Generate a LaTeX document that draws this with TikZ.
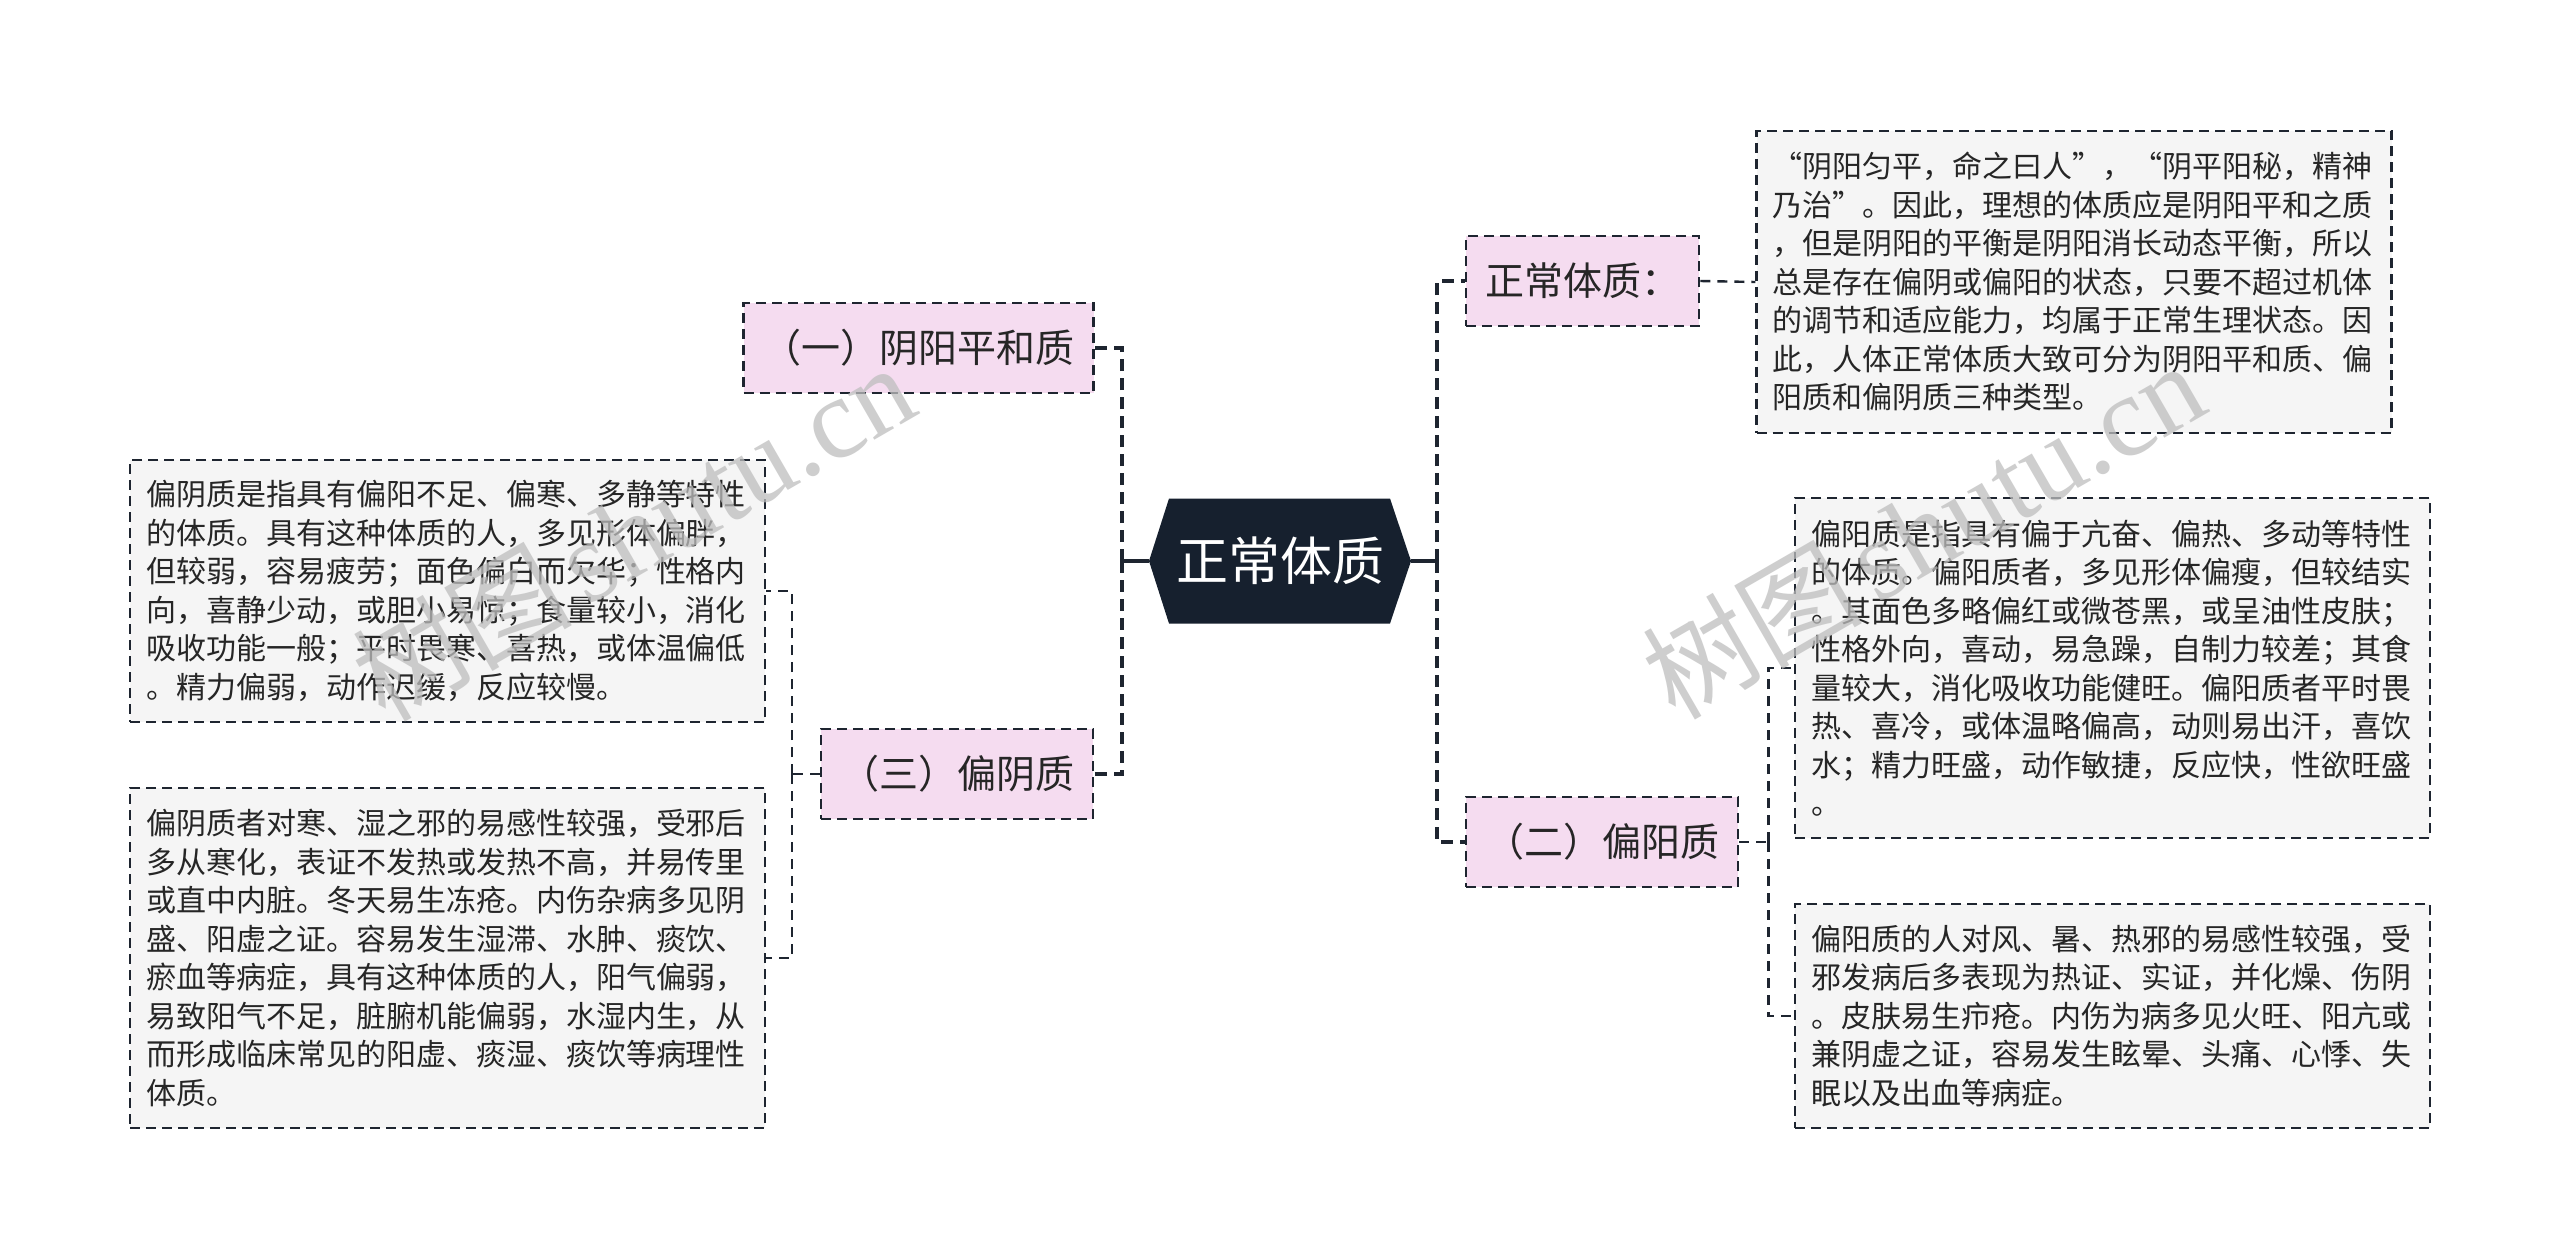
\documentclass[tikz,border=0pt]{standalone}
\usepackage{fontspec}
\setmainfont{Noto Sans CJK SC}
\newfontfamily\cjkfont{Noto Sans CJK SC}
\newfontfamily\wmserif{Liberation Serif}
\usetikzlibrary{calc}
\definecolor{rootfill}{HTML}{16202E}
\definecolor{labelfill}{HTML}{F5DCF0}
\definecolor{notefill}{HTML}{F5F5F5}
\definecolor{linecol}{HTML}{1E2530}
\definecolor{textcol}{HTML}{262626}
\definecolor{wmgray}{HTML}{BEBEBE}
\begin{document}
\begin{tikzpicture}[x=1pt,y=-1pt,
  labelbox/.style={draw=linecol, line width=2.6pt, dash pattern=on 10pt off 6pt, fill=labelfill,
    font=\fontsize{39}{46}\selectfont, text=textcol, inner xsep=19pt, inner ysep=0pt, minimum height=90pt},
  notebox/.style={draw=linecol, line width=2.2pt, dash pattern=on 10pt off 6pt, fill=notefill,
    font=\fontsize{30}{38.5}\selectfont, text=textcol, text width=603pt, align=left,
    inner xsep=16pt, inner ysep=0pt},
  roottext/.style={text=white, font=\fontsize{52}{60}\selectfont, inner sep=0pt},
  rootlink/.style={draw=linecol, line width=3.6pt, dash pattern=on 12pt off 7pt},
  sublink/.style={draw=linecol, line width=2.4pt, dash pattern=on 10pt off 7pt},
  stub/.style={draw=linecol, line width=3.6pt},
  watermark/.style={text=wmgray, opacity=0.75, rotate=30, inner sep=0pt}
]
\fill[white] (0,0) rectangle (2560,1259);
\useasboundingbox (0,0) rectangle (2560,1259);

% root hexagon
\coordinate (rc) at (1280,561);
\fill[rootfill] ($(rc)+(-111,-62.5)$) -- ($(rc)+(110,-62.5)$) -- ($(rc)+(131,0)$)
  -- ($(rc)+(110,62.5)$) -- ($(rc)+(-111,62.5)$) -- ($(rc)+(-131,0)$) -- cycle;
\node[roottext] (root) at (rc) {正常体质};
\coordinate (rootW) at ($(rc)+(-131,0)$);
\coordinate (rootE) at ($(rc)+(131,0)$);

% first-level labels
\node[labelbox, minimum width=233pt] (n0) at (1582.5,281) {正常体质：};
\node[labelbox, minimum width=349pt] (n1) at (918.5,348) {（一）阴阳平和质};
\node[labelbox, minimum width=272pt] (n2) at (1602,842) {（二）偏阳质};
\node[labelbox, minimum width=272pt] (n3) at (957,774) {（三）偏阴质};

% notes
\node[notebox, minimum height=302pt] (A) at (2074,282) {%
“阴阳匀平，命之曰人”，“阴平阳秘，精神\\
乃治”。因此，理想的体质应是阴阳平和之质\\
，但是阴阳的平衡是阴阳消长动态平衡，所以\\
总是存在偏阴或偏阳的状态，只要不超过机体\\
的调节和适应能力，均属于正常生理状态。因\\
此，人体正常体质大致可分为阴阳平和质、偏\\
阳质和偏阴质三种类型。};

\node[notebox, minimum height=262pt] (B) at (447.5,591) {%
偏阴质是指具有偏阳不足、偏寒、多静等特性\\
的体质。具有这种体质的人，多见形体偏胖，\\
但较弱，容易疲劳；面色偏白而欠华；性格内\\
向，喜静少动，或胆小易惊；食量较小，消化\\
吸收功能一般；平时畏寒、喜热，或体温偏低\\
。精力偏弱，动作迟缓，反应较慢。};

\node[notebox, minimum height=340pt] (C) at (447.5,958) {%
偏阴质者对寒、湿之邪的易感性较强，受邪后\\
多从寒化，表证不发热或发热不高，并易传里\\
或直中内脏。冬天易生冻疮。内伤杂病多见阴\\
盛、阳虚之证。容易发生湿滞、水肿、痰饮、\\
瘀血等病症，具有这种体质的人，阳气偏弱，\\
易致阳气不足，脏腑机能偏弱，水湿内生，从\\
而形成临床常见的阳虚、痰湿、痰饮等病理性\\
体质。};

\node[notebox, minimum height=340pt] (D) at (2112.5,668) {%
偏阳质是指具有偏于亢奋、偏热、多动等特性\\
的体质。偏阳质者，多见形体偏瘦，但较结实\\
。其面色多略偏红或微苍黑，或呈油性皮肤；\\
性格外向，喜动，易急躁，自制力较差；其食\\
量较大，消化吸收功能健旺。偏阳质者平时畏\\
热、喜冷，或体温略偏高，动则易出汗，喜饮\\
水；精力旺盛，动作敏捷，反应快，性欲旺盛\\
。};

\node[notebox, minimum height=224pt] (E) at (2112.5,1016) {%
偏阳质的人对风、暑、热邪的易感性较强，受\\
邪发病后多表现为热证、实证，并化燥、伤阴\\
。皮肤易生疖疮。内伤为病多见火旺、阳亢或\\
兼阴虚之证，容易发生眩晕、头痛、心悸、失\\
眠以及出血等病症。};

% connectors from root
\coordinate (jl) at (1122,561);
\coordinate (jr) at (1437,561);
\draw[stub] (rootW) -- (jl);
\draw[stub] (rootE) -- (jr);
\draw[rootlink] (jl) |- (n1.east);
\draw[rootlink] (jl) |- (n3.east);
\draw[rootlink] (jr) |- (n0.west);
\draw[rootlink] (jr) |- (n2.west);

% second level connectors
\draw[sublink] (n0.east) -- (A.west);
\coordinate (j2) at ($(n2.east)+(29,0)$);
\draw[sublink] (n2.east) -- (j2);
\draw[sublink] (j2) |- (D.west);
\draw[sublink] (j2) |- (E.west);
\coordinate (j3) at ($(n3.west)+(-28,0)$);
\draw[sublink] (n3.west) -- (j3);
\draw[sublink] (j3) |- (B.east);
\draw[sublink] (j3) |- (C.east);

% watermarks
\node[watermark] (wm1) at (633,532) {{\cjkfont\fontsize{110}{120}\selectfont 树图}\hspace{14pt}{\wmserif\fontsize{115}{120}\selectfont shutu.cn}};
\node[watermark] (wm2) at (1923,530) {{\cjkfont\fontsize{110}{120}\selectfont 树图}\hspace{14pt}{\wmserif\fontsize{115}{120}\selectfont shutu.cn}};
\end{tikzpicture}
\end{document}
